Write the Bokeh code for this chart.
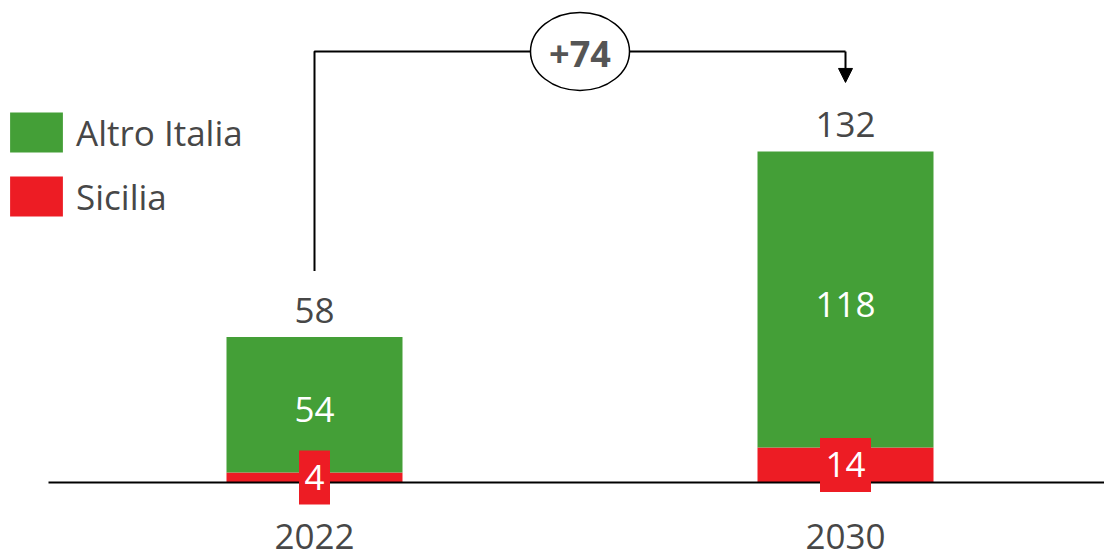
from bokeh.plotting import figure
from bokeh.models import ColumnDataSource, Range1d, Legend, LegendItem, Arrow, NormalHead
from bokeh.embed import file_html
from bokeh.resources import INLINE
from bokeh.core.properties import value

# ---- data ----
years = ["2022", "2030"]
sicilia = [4, 14]
altro_italia = [54, 118]
series = ["Sicilia", "Altro Italia"]
series_colors = ["#ED1C24", "#449F37"]

totals = [s + a for s, a in zip(sicilia, altro_italia)]
delta = totals[-1] - totals[0]
xpos = list(range(len(years)))

# ---- layout constants ----
W, H = 1104, 559
PX = 2.508          # pixels per unit
BASE = 482          # baseline, px from top
X0, STEP = 314, 531 # first category centre and spacing, px
BAR_W = 176 / STEP
FONT_NAME = "Open Sans"
FONT = value(FONT_NAME)
FS = "35px"
GRAY = "#474747"

y_hi = BASE / PX
y_lo = -(H - BASE) / PX
x_lo = -X0 / STEP
x_hi = (W - X0) / STEP

p = figure(width=W, height=H, x_range=Range1d(x_lo, x_hi), y_range=Range1d(y_lo, y_hi),
           output_backend="svg", toolbar_location=None, min_border=0,
           outline_line_color=None)
p.axis.visible = False
p.grid.visible = False

src = ColumnDataSource({"x": xpos, "Sicilia": sicilia, "Altro Italia": altro_italia})
rs = p.vbar_stack(series, x="x", width=BAR_W, color=series_colors,
                  line_color=None, source=src)

# baseline
p.segment(x0=[x_lo + 48 / STEP], y0=[0], x1=[x_hi], y1=[0], line_color="black", line_width=2)

# green labels
p.text(x=xpos, y=[s + a / 2 for s, a in zip(sicilia, altro_italia)], text=[str(a) for a in altro_italia],
       text_color="white", text_font=FONT, text_font_size=FS, text_align="center",
       text_baseline="middle", y_offset=5)

# sicilia labels in red boxes
sic_src = ColumnDataSource(dict(x=xpos, y=[s / 2 for s in sicilia], t=[str(s) for s in sicilia],
                                w=[11 + 20 * len(str(s)) for s in sicilia]))
p.rect(x="x", y="y", width="w", height=54, width_units="screen", height_units="screen",
       fill_color="#ED1C24", line_color=None, source=sic_src)
p.text(x="x", y="y", text="t", text_color="white", text_font=FONT, text_font_size=FS,
       text_align="center", text_baseline="middle", source=sic_src)

# totals
p.text(x=xpos, y=totals, text=[str(t) for t in totals], text_color=GRAY, text_font=FONT,
       text_font_size=FS, text_align="center", text_baseline="middle", y_offset=-27)

# year labels
p.text(x=xpos, y=[0] * len(years), text=years, text_color=GRAY, text_font=FONT,
       text_font_size=FS, text_align="center", text_baseline="middle", y_offset=54)

# bracket
y_start = totals[0] + 66 / PX
y_top = max(totals) + 100 / PX
y_tip = totals[-1] + 69 / PX
p.line(x=[xpos[0], xpos[0], xpos[-1]], y=[y_start, y_top, y_top], line_color="black", line_width=2)
p.add_layout(Arrow(end=NormalHead(size=14, fill_color="black", line_color="black"),
                   x_start=xpos[-1], y_start=y_top, x_end=xpos[-1], y_end=y_tip,
                   line_color="black", line_width=2))
xm = (xpos[0] + xpos[-1]) / 2
p.ellipse(x=[xm], y=[y_top], width=99, height=78, width_units="screen", height_units="screen",
          fill_color="white", line_color="black", line_width=1.5)
p.text(x=[xm], y=[y_top], text=["+%d" % delta], text_color="#555555", text_font=FONT,
       text_font_style="bold", text_font_size="36px", text_align="center",
       text_baseline="middle", y_offset=3)

legend = Legend(items=[LegendItem(label="Altro Italia", renderers=[rs[1]]),
                       LegendItem(label="Sicilia", renderers=[rs[0]])],
                location=(3, 338), glyph_width=66, glyph_height=50, label_standoff=7,
                label_text_font=FONT_NAME, label_text_font_size=FS, label_text_color=GRAY,
                label_height=50, spacing=14, padding=0, margin=0,
                border_line_color=None, background_fill_alpha=0)
p.add_layout(legend)

open("out.html", "w").write(file_html(p, INLINE))
